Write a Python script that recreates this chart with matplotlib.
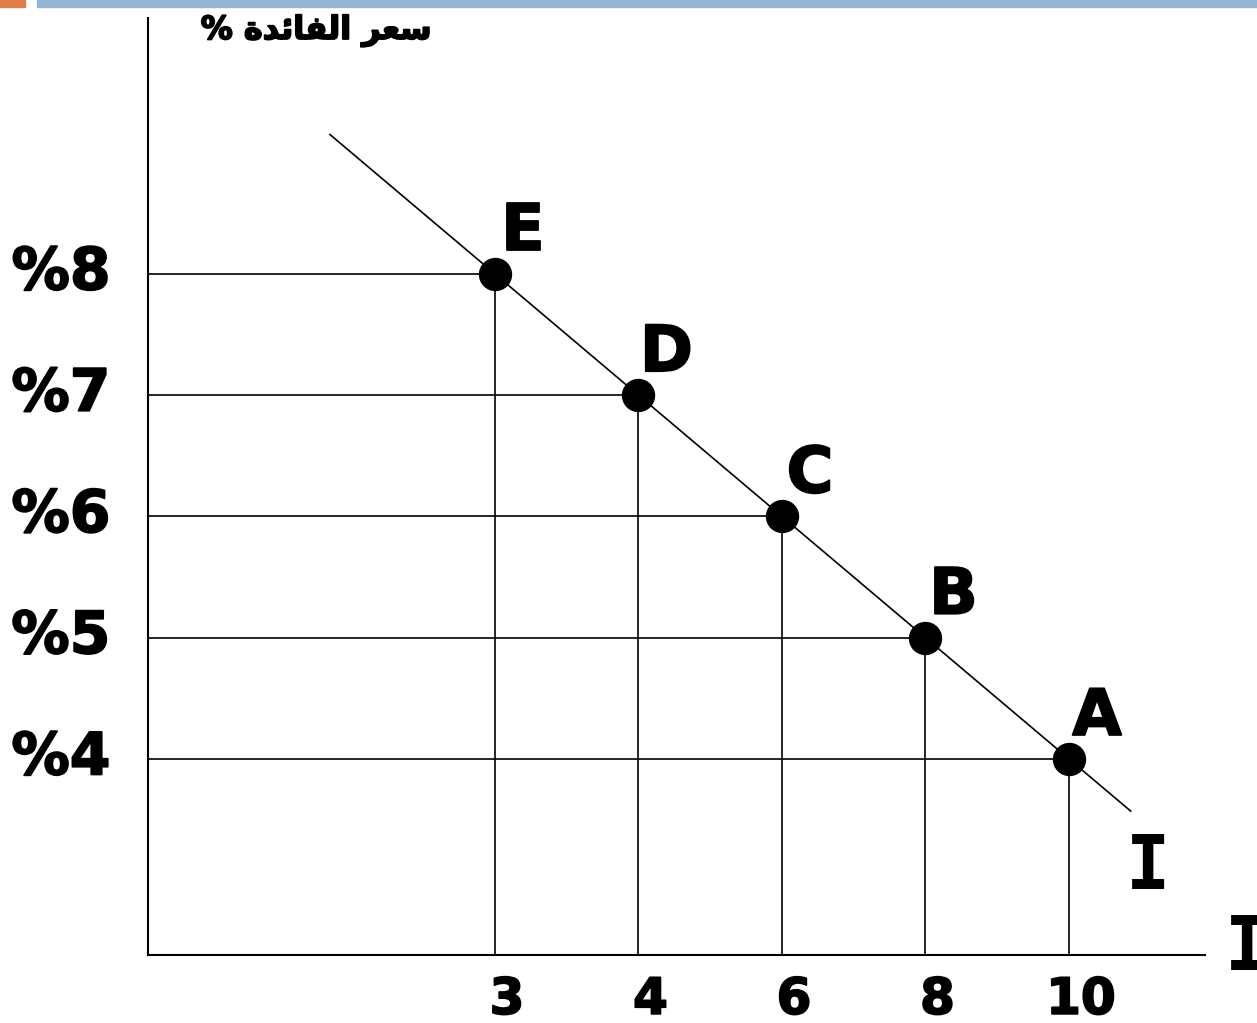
import numpy as np
import matplotlib
matplotlib.use("Agg")
import matplotlib.pyplot as plt
import matplotlib.patheffects as pe
from matplotlib.patches import Rectangle
from matplotlib.transforms import ScaledTranslation

# investment demand schedule: rate of interest (%) vs investment
point_names = ["E", "D", "C", "B", "A"]
investment = ["3", "4", "6", "8", "10"]
interest_rate = [8, 7, 6, 5, 4]
rate_labels = ["%8", "%7", "%6", "%5", "%4"]

# Arabic axis title, written in presentation forms (visual order)
y_title = "% \uFE93\uFEAA\uFE8B\uFE8E\uFED4\uFEDF\uFE8D \uFEAE\uFECC\uFEB3"

W, H = 1257, 1023
fig = plt.figure(figsize=(W / 100, H / 100), dpi=100)
ax = fig.add_axes([148 / W, 1 - 955 / H, (1205 - 148) / W, (955 - 18) / H])

# heavier strokes for the bold labels
heavy = [pe.withStroke(linewidth=1.3, foreground="black")]

# slide header strip
fig.patches.append(Rectangle((0, 1 - 7 / H), 25 / W, 7 / H, transform=fig.transFigure,
                             color="#E07E47", zorder=0))
fig.patches.append(Rectangle((37 / W, 1 - 7 / H), 1 - 37 / W, 7 / H, transform=fig.transFigure,
                             color="#94B6D3", zorder=0))

x = np.arange(len(investment))
y = np.array(interest_rate, dtype=float)
x_left, x_right = -2.418, 4.948
y_bottom, y_top = 2.383, 10.111
ax.set_xlim(x_left, x_right)
ax.set_ylim(y_bottom, y_top)

# guide lines from each point to both axes
for xi, yi in zip(x, y):
    ax.plot([x_left, xi], [yi, yi], color="black", lw=1.2, zorder=1)
    ax.plot([xi, xi], [y_bottom, yi], color="black", lw=1.2, zorder=1)

# the investment curve, extended a little past the end points
k, b = np.polyfit(x, y, 1)
xs = np.array([-1.15, 4.43])
ax.plot(xs, k * xs + b, color="black", lw=1.2, zorder=2)

ax.plot(x, y, "o", color="black", markersize=23, zorder=3)
for xi, yi, name in zip(x, y, point_names):
    ax.annotate(name, (xi, yi), xytext=(28, 42), textcoords="offset pixels",
                ha="center", va="center", fontsize=46, fontweight="bold",
                path_effects=heavy)

for side in ["top", "right"]:
    ax.spines[side].set_visible(False)
for side in ["left", "bottom"]:
    ax.spines[side].set_linewidth(1.5)

ax.set_yticks(y)
ax.set_yticklabels(rate_labels, fontsize=42, fontweight="bold")
ax.tick_params(axis="y", length=0, pad=27)
up = ScaledTranslation(0, 7 / 100, fig.dpi_scale_trans)
for lab in ax.get_yticklabels():
    lab.set_transform(lab.get_transform() + up)
    lab.set_path_effects(heavy)

ax.set_xticks(x)
ax.set_xticklabels(investment, fontsize=36, fontweight="bold")
ax.tick_params(axis="x", length=0, pad=15)
shift = ScaledTranslation(12 / 100, 0, fig.dpi_scale_trans)
for lab in ax.get_xticklabels():
    lab.set_transform(lab.get_transform() + shift)
    lab.set_path_effects(heavy)

ax.text(0.5 * (203 + 430) / W, 1 - 31 / H, y_title, transform=fig.transFigure,
        ha="center", va="center", fontsize=23, fontweight="bold",
        family=["DejaVu Sans", "Noto Sans"], path_effects=heavy)

# curve label and horizontal axis label
ax.text(4.55, 3.1, "I", fontsize=53, fontweight="bold", family="DejaVu Sans Mono",
        ha="center", va="center")
ax.text(1225 / W, 1 - 949 / H, "I", transform=fig.transFigure, fontsize=53,
        fontweight="bold", family="DejaVu Sans Mono", ha="left", va="center")

fig.savefig("out.png", dpi=100)
